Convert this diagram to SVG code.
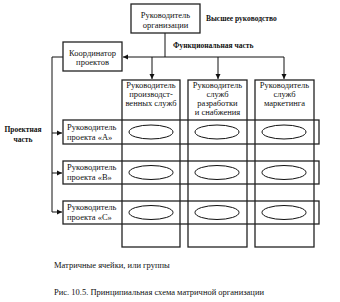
<svg xmlns="http://www.w3.org/2000/svg" width="340" height="302" viewBox="0 0 340 302">
<defs>
<style>
.box{fill:none;stroke:#222;stroke-width:1.3}
.cell{fill:none;stroke:#111;stroke-width:1}
.ln{fill:none;stroke:#111;stroke-width:1}
.t{font-family:"Liberation Serif","Times New Roman",serif;font-size:8.5px;fill:#111}
.c{text-anchor:middle}
.b{font-family:"Liberation Serif","Times New Roman",serif;font-size:7.5px;font-weight:bold;fill:#111}
</style>
<marker id="ah" markerWidth="6" markerHeight="6" refX="5" refY="3" orient="auto" markerUnits="userSpaceOnUse">
<path d="M0,0.5 L5,3 L0,5.5 Z" fill="#111"/>
</marker>
</defs>
<rect width="340" height="302" fill="#fff"/>

<g id="connectors">
<path class="ln" d="M165,33 V57"/>
<path class="ln" d="M284,57 H123" marker-end="url(#ah)"/>
<path class="ln" d="M152,57 V79" marker-end="url(#ah)"/>
<path class="ln" d="M218,57 V79" marker-end="url(#ah)"/>
<path class="ln" d="M284,57 V79" marker-end="url(#ah)"/>
<path class="ln" d="M63,57 H52 V212"/>
<path class="ln" d="M52,133 H62" marker-end="url(#ah)"/>
<path class="ln" d="M52,173 H62" marker-end="url(#ah)"/>
<path class="ln" d="M52,212 H62" marker-end="url(#ah)"/>
</g>

<g id="top-manager">
<rect class="box" x="131" y="4" width="69" height="29"/>
<text class="t c" x="165.5" y="18">Руководитель</text>
<text class="t c" x="165.5" y="28">организации</text>
</g>
<text class="b" x="206" y="20.5">Высшее руководство</text>
<text class="b" x="173" y="47.5">Функциональная часть</text>

<g id="coordinator">
<rect class="box" x="63" y="42" width="59" height="29"/>
<text class="t c" x="92.5" y="55.5">Координатор</text>
<text class="t c" x="92.5" y="64.5">проектов</text>
</g>

<g id="func-production">
<rect class="box" x="122" y="80" width="58" height="167"/>
<text class="t c" x="151" y="87.5">Руководитель</text>
<text class="t c" x="151" y="96.5">производст-</text>
<text class="t c" x="151" y="105.5">венных служб</text>
</g>
<g id="func-development">
<rect class="box" x="188" y="80" width="59" height="167"/>
<text class="t c" x="217.5" y="87.5">Руководитель</text>
<text class="t c" x="217.5" y="96.5">служб</text>
<text class="t c" x="217.5" y="105.5">разработки</text>
<text class="t c" x="217.5" y="114.5">и снабжения</text>
</g>
<g id="func-marketing">
<rect class="box" x="255" y="80" width="59" height="167"/>
<text class="t c" x="284.5" y="87.5">Руководитель</text>
<text class="t c" x="284.5" y="96.5">служб</text>
<text class="t c" x="284.5" y="105.5">маркетинга</text>
</g>

<text class="b c" x="23" y="132">Проектная</text>
<text class="b c" x="23" y="142">часть</text>

<g id="project-a">
<rect class="box" x="63" y="120" width="256" height="24"/>
<text class="t" x="67" y="129.5">Руководитель</text>
<text class="t" x="67" y="139.5">проекта «А»</text>
</g>
<g id="project-b">
<rect class="box" x="63" y="161" width="256" height="23"/>
<text class="t" x="67" y="169.5">Руководитель</text>
<text class="t" x="67" y="179.5">проекта «В»</text>
</g>
<g id="project-c">
<rect class="box" x="63" y="201" width="256" height="23"/>
<text class="t" x="67" y="210">Руководитель</text>
<text class="t" x="67" y="220">проекта «С»</text>
</g>

<g id="cells">
<ellipse class="cell" cx="151" cy="132" rx="22" ry="7"/>
<ellipse class="cell" cx="217" cy="132" rx="22" ry="7"/>
<ellipse class="cell" cx="284" cy="132" rx="22" ry="7"/>
<ellipse class="cell" cx="151" cy="172.5" rx="22" ry="7"/>
<ellipse class="cell" cx="217" cy="172.5" rx="22" ry="7"/>
<ellipse class="cell" cx="284" cy="172.5" rx="22" ry="7"/>
<ellipse class="cell" cx="151" cy="212.5" rx="22" ry="7"/>
<ellipse class="cell" cx="217" cy="212.5" rx="22" ry="7"/>
<ellipse class="cell" cx="284" cy="212.5" rx="22" ry="7"/>
</g>

<text class="t" x="54" y="268">Матричные ячейки, или группы</text>
<text class="t" x="54" y="294.5">Рис. 10.5. Принципиальная схема матричной организации</text>
</svg>
